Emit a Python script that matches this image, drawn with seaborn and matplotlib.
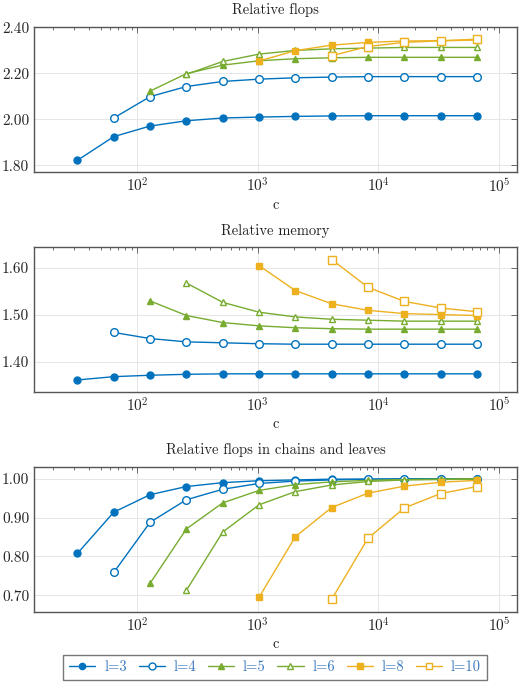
import numpy as np
import pandas as pd
import seaborn as sns
import matplotlib.pyplot as plt
from matplotlib.ticker import FormatStrFormatter, LogLocator, NullLocator
from matplotlib.lines import Line2D

# valores de c (potencias de 2)
c_vals = [32, 64, 128, 256, 512, 1024, 2048, 4096, 8192, 16384, 32768, 65536]

etiquetas = ["l=3", "l=4", "l=5", "l=6", "l=8", "l=10"]
inicio = [0, 1, 2, 3, 5, 7]  # indice de c donde empieza cada serie

# Relative flops
flops_l3 = [1.822, 1.925, 1.971, 1.994, 2.006, 2.010, 2.013, 2.015, 2.016, 2.016, 2.016, 2.016]
flops_l4 = [2.006, 2.099, 2.143, 2.165, 2.175, 2.181, 2.184, 2.186, 2.186, 2.186, 2.186]
flops_l5 = [2.123, 2.199, 2.236, 2.255, 2.264, 2.268, 2.270, 2.270, 2.270, 2.270]
flops_l6 = [2.196, 2.252, 2.284, 2.300, 2.307, 2.310, 2.313, 2.313, 2.313]
flops_l8 = [2.254, 2.299, 2.323, 2.335, 2.341, 2.342, 2.345]
flops_l10 = [2.277, 2.317, 2.335, 2.342, 2.349]

# Relative memory
mem_l3 = [1.361, 1.368, 1.371, 1.373, 1.374, 1.374, 1.374, 1.374, 1.374, 1.374, 1.374, 1.374]
mem_l4 = [1.462, 1.449, 1.442, 1.440, 1.438, 1.437, 1.437, 1.437, 1.437, 1.437, 1.437]
mem_l5 = [1.529, 1.498, 1.483, 1.476, 1.472, 1.470, 1.469, 1.469, 1.469, 1.469]
mem_l6 = [1.567, 1.526, 1.505, 1.495, 1.490, 1.488, 1.486, 1.486, 1.486]
mem_l8 = [1.604, 1.551, 1.523, 1.509, 1.502, 1.500, 1.498]
mem_l10 = [1.617, 1.558, 1.528, 1.514, 1.506]

# Relative flops in chains and leaves
cadena_l3 = [0.808, 0.914, 0.959, 0.980, 0.990, 0.995, 0.997, 0.999, 0.999, 1.0, 1.0, 1.0]
cadena_l4 = [0.759, 0.888, 0.946, 0.973, 0.988, 0.994, 0.997, 0.999, 0.999, 1.0, 1.0]
cadena_l5 = [0.731, 0.871, 0.938, 0.970, 0.985, 0.992, 0.996, 0.998, 0.999, 1.0]
cadena_l6 = [0.713, 0.863, 0.933, 0.967, 0.984, 0.993, 0.997, 0.998, 0.999]
cadena_l8 = [0.695, 0.851, 0.926, 0.963, 0.981, 0.991, 0.996]
cadena_l10 = [0.690, 0.847, 0.925, 0.962, 0.980]

paneles = [
    ("Relative flops", [flops_l3, flops_l4, flops_l5, flops_l6, flops_l8, flops_l10], (1.771, 2.402), [1.8, 2.0, 2.2, 2.4]),
    ("Relative memory", [mem_l3, mem_l4, mem_l5, mem_l6, mem_l8, mem_l10], (1.336, 1.643), [1.4, 1.5, 1.6]),
    ("Relative flops in chains and leaves", [cadena_l3, cadena_l4, cadena_l5, cadena_l6, cadena_l8, cadena_l10], (0.658, 1.031), [0.7, 0.8, 0.9, 1.0]),
]

azul, verde, amarillo = "#0072BD", "#77AC30", "#EDB120"
estilos = [
    dict(color=azul, marker="o", mfc=azul, ms=5.0),
    dict(color=azul, marker="o", mfc="white", ms=5.5),
    dict(color=verde, marker="^", mfc=verde, ms=4.5),
    dict(color=verde, marker="^", mfc="white", ms=4.5),
    dict(color=amarillo, marker="s", mfc=amarillo, ms=5.0),
    dict(color=amarillo, marker="s", mfc="white", ms=5.5),
]

sns.set_theme(style="white")
plt.rcParams["font.family"] = ["cmr10", "DejaVu Serif"]
plt.rcParams["mathtext.fontset"] = "cm"
plt.rcParams["axes.formatter.use_mathtext"] = True
plt.rcParams["axes.unicode_minus"] = False

fig = plt.figure(figsize=(5.25, 6.9), dpi=100)
posiciones = [[0.065, 0.7507, 0.920, 0.2102],
              [0.065, 0.4323, 0.920, 0.2093],
              [0.065, 0.1135, 0.920, 0.2101]]

for (titulo, series, ylim, yticks), pos in zip(paneles, posiciones):
    ax = fig.add_axes(pos)
    for serie, ini, lab, st in zip(series, inicio, etiquetas, estilos):
        df = pd.DataFrame({"c": c_vals[ini:ini + len(serie)], "valor": serie})
        sns.lineplot(data=df, x="c", y="valor", ax=ax, color=st["color"], marker=st["marker"],
                     markerfacecolor=st["mfc"], markeredgecolor=st["color"], markersize=st["ms"],
                     markeredgewidth=1.0, linewidth=1.0, label=lab, legend=False)
    ax.set_xscale("log")
    ax.set_xlim(14, 1.41e5)
    ax.set_ylim(*ylim)
    ax.set_yticks(yticks)
    ax.yaxis.set_major_formatter(FormatStrFormatter("%.2f"))
    ax.yaxis.set_minor_locator(NullLocator())
    ax.xaxis.set_major_locator(LogLocator(base=10, numticks=10))
    ax.xaxis.set_minor_locator(LogLocator(base=10, subs=np.arange(2, 10), numticks=20))
    ax.grid(True, which="major", color="#e2e2e2", linewidth=0.6)
    ax.set_axisbelow(True)
    ax.tick_params(which="both", direction="in", top=True, right=True, color="#555555",
                   labelsize=11, width=0.6)
    ax.tick_params(which="major", length=4)
    ax.tick_params(which="minor", length=2.5)
    for sp in ax.spines.values():
        sp.set_color("#555555")
        sp.set_linewidth(1.0)
    ax.set_title(titulo, fontsize=10.5, pad=9, color="#222222")
    ax.set_xlabel("c", fontsize=10.5, labelpad=2)
    ax.set_ylabel("")

manejadores = [Line2D([0], [0], color=st["color"], marker=st["marker"], markerfacecolor=st["mfc"],
                      markeredgecolor=st["color"], markersize=st["ms"] - 0.5, linewidth=1.0)
               for st in estilos]
leg = fig.legend(manejadores, etiquetas, loc="center", bbox_to_anchor=(0.524, 0.033), ncol=6,
                 fontsize=10.5, frameon=True, fancybox=False, edgecolor="#555555",
                 handlelength=1.8, columnspacing=0.8, handletextpad=0.6, borderpad=0.4)
leg.get_frame().set_linewidth(1.0)
for t in leg.get_texts():
    t.set_color("#3a78c0")

fig.savefig("out.png", dpi=100)
